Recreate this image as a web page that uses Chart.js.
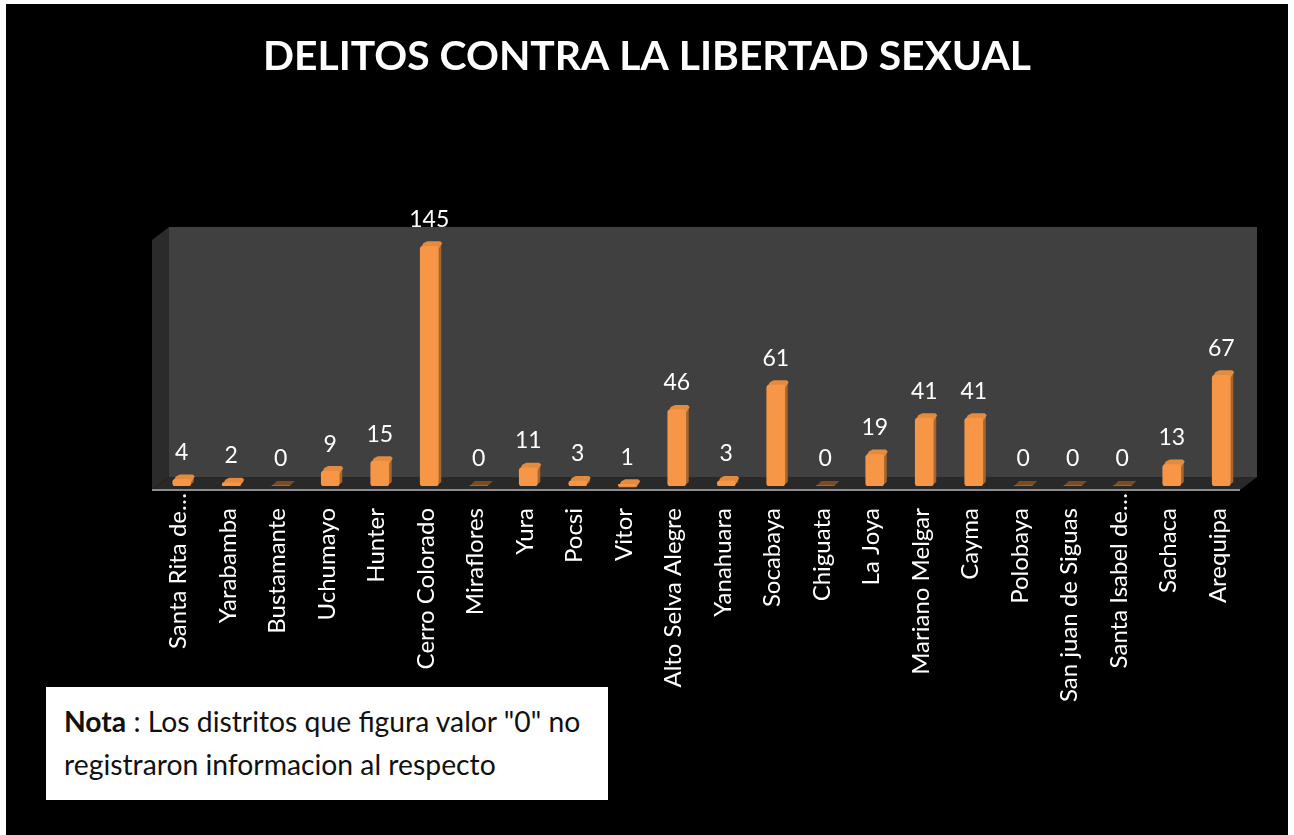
<!DOCTYPE html>
<html>
<head>
<meta charset="utf-8">
<script src="https://cdn.jsdelivr.net/npm/chart.js@4"></script>
<style>
  html, body { margin: 0; padding: 0; background: #fff; }
  #wrap { position: absolute; left: 0; top: 0; width: 1294px; height: 835px; overflow: hidden; }
  #fondo { position: absolute; left: 6px; top: 4px; width: 1282px; height: 831px; background: #000; }
  #chart { position: absolute; left: 0; top: 0; }
  #nota {
    position: absolute; left: 46px; top: 687px; width: 562px; height: 113px;
    box-sizing: border-box; background: #fff; color: #111; padding: 13px 0 0 18px;
    font: 28.3px/43px Lato, sans-serif; white-space: nowrap;
  }
</style>
</head>
<body>
<div id="wrap">
  <div id="fondo"></div>
  <canvas id="chart" width="1294" height="835"></canvas>
  <div id="nota"><b>Nota</b> : Los distritos que figura valor "0" no<br>registraron informacion al respecto</div>
</div>
<script>
var titulo = 'DELITOS CONTRA LA LIBERTAD SEXUAL';
var distritos = ['Santa Rita de…', 'Yarabamba', 'Bustamante', 'Uchumayo', 'Hunter', 'Cerro Colorado', 'Miraflores',
  'Yura', 'Pocsi', 'Vitor', 'Alto Selva Alegre', 'Yanahuara', 'Socabaya', 'Chiguata', 'La Joya', 'Mariano Melgar',
  'Cayma', 'Polobaya', 'San juan de Siguas', 'Santa Isabel de…', 'Sachaca', 'Arequipa'];
var delitos = [4, 2, 0, 9, 15, 145, 0, 11, 3, 1, 46, 3, 61, 0, 19, 41, 41, 0, 0, 0, 13, 67];

// fake 3d depth of the walls and of the bars
var wallDx = 17, wallDy = 13;
var barDx = 5, barDy = 5;

function poly(ctx, pts, color) {
  ctx.fillStyle = color;
  ctx.beginPath();
  ctx.moveTo(pts[0][0], pts[0][1]);
  for (var i = 1; i < pts.length; i++) ctx.lineTo(pts[i][0], pts[i][1]);
  ctx.closePath();
  ctx.fill();
}

var walls = {
  id: 'walls',
  beforeDraw: function (chart) {
    // the two cut labels run up to the axis: their dots hang above the others
    chart.scales.x.getLabelItems().forEach(function (item) {
      if (item.label.slice(-1) === '…' && !item.moved) {
        item.options.translation[1] -= 15;
        item.moved = true;
      }
    });
  },
  beforeDatasetsDraw: function (chart) {
    var ctx = chart.ctx, a = chart.chartArea;
    var l = a.left - 5, r = a.right - 6, b = a.bottom + 4, t = a.top + 2;
    ctx.save();
    poly(ctx, [[l + wallDx, t - wallDy], [r + wallDx, t - wallDy], [r + wallDx, b - wallDy], [l + wallDx, b - wallDy]], '#404040');
    poly(ctx, [[l, t], [l + wallDx, t - wallDy], [l + wallDx, b - wallDy], [l, b]], '#2b2b2b');
    poly(ctx, [[l, b], [l + wallDx, b - wallDy], [r + wallDx, b - wallDy], [r, b]], '#292929');
    ctx.fillStyle = '#8c8c8c';
    ctx.fillRect(l, b - 1, r - l, 2);
    // side and top of the bars, behind the front face
    chart.getDatasetMeta(0).data.forEach(function (bar, i) {
      var w = bar.width / 2;
      if (delitos[i] > 0) {
        poly(ctx, [[bar.x + w - 2, bar.y], [bar.x + w - 2 + barDx, bar.y - barDy + 2], [bar.x + w - 2 + barDx, bar.base - 4], [bar.x + w - 2, bar.base]], '#a8652c');
        poly(ctx, [[bar.x - w, bar.y + 3], [bar.x - w + 3, bar.y - barDy + 2], [bar.x - w + barDx + 2, bar.y - barDy], [bar.x + w + barDx - 3, bar.y - barDy], [bar.x + w + barDx - 1, bar.y - barDy + 2], [bar.x + w, bar.y + 3]], '#e38b3e');
      } else {
        poly(ctx, [[bar.x - w, bar.base], [bar.x - w + barDx, bar.base - barDy], [bar.x + w + barDx, bar.base - barDy], [bar.x + w, bar.base]], '#7d4b20');
      }
    });
    ctx.restore();
  },
  afterDatasetsDraw: function (chart) {
    var ctx = chart.ctx;
    ctx.save();
    ctx.fillStyle = '#fff';
    ctx.font = '23px Lato';
    ctx.textAlign = 'center';
    ctx.textBaseline = 'middle';
    chart.getDatasetMeta(0).data.forEach(function (bar, i) {
      ctx.fillText(String(delitos[i]), bar.x, bar.y - 27);
    });
    ctx.restore();
  }
};

new Chart(document.getElementById('chart').getContext('2d'), {
  type: 'bar',
  data: {
    labels: distritos,
    datasets: [{
      data: delitos,
      backgroundColor: '#f79646',
      barThickness: 18,
      borderRadius: 3,
      borderSkipped: false
    }]
  },
  plugins: [walls],
  options: {
    responsive: false,
    animation: false,
    layout: { padding: 0 },
    plugins: {
      legend: { display: false },
      tooltip: { enabled: false },
      title: {
        display: true,
        text: titulo,
        color: '#fff',
        font: { family: 'Lato', size: 40.8, weight: 'bold' },
        padding: { top: 32, bottom: 157 }
      }
    },
    scales: {
      x: {
        grid: { display: false },
        border: { display: false },
        ticks: {
          color: '#fff',
          font: { family: 'Lato', size: 24 },
          minRotation: 90,
          maxRotation: 90,
          autoSkip: false,
          padding: 14,
          labelOffset: -3
        },
        afterFit: function (s) { s.height = 349; }
      },
      y: {
        min: 0,
        max: 150,
        grid: { display: false },
        border: { display: false },
        ticks: { display: false },
        afterFit: function (s) { s.width = 157; }
      },
      derecha: {
        position: 'right',
        grid: { display: false },
        border: { display: false },
        ticks: { display: false },
        afterFit: function (s) { s.width = 48; }
      }
    }
  }
});
</script>
</body>
</html>
